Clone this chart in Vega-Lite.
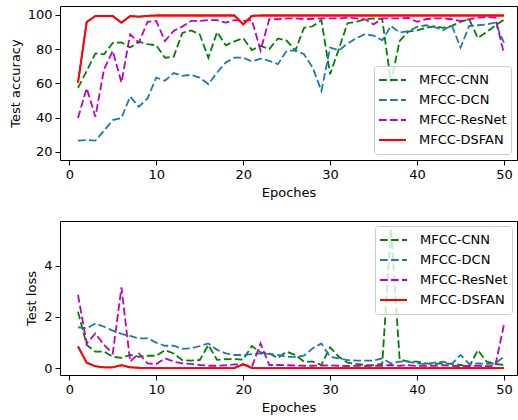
{
"$schema": "https://vega.github.io/schema/vega-lite/v6.json",
"padding": {"left": 8, "top": 5, "right": 0, "bottom": 0},
"background": "white",
"config": {
  "font": "DejaVu Sans",
  "view": {"stroke": "black", "strokeWidth": 1},
  "axis": {"grid": false, "domain": false, "tickColor": "black", "tickSize": 5, "tickWidth": 1, "labelColor": "black", "titleColor": "black", "labelFontSize": 13, "titleFontSize": 13, "titleFontWeight": "normal", "labelPadding": 3, "titlePadding": 5, "labelFont": "DejaVu Sans", "titleFont": "DejaVu Sans", "labelOverlap": false},
  "legend": {"symbolType": "stroke", "symbolSize": 729, "symbolStrokeWidth": 2, "labelFontSize": 13, "labelFont": "DejaVu Sans", "labelColor": "black", "fillColor": "rgba(255,255,255,0.8)", "strokeColor": "#cccccc", "cornerRadius": 3, "padding": 4, "rowPadding": 0, "clipHeight": 20, "labelOffset": 12, "offset": 5},
  "concat": {"spacing": 20}
},
"datasets": {"d": [
{"epoch":1,"model":"MFCC-CNN","acc":57.3,"loss":2.21},
{"epoch":2,"model":"MFCC-CNN","acc":67.3,"loss":0.91},
{"epoch":3,"model":"MFCC-CNN","acc":77.5,"loss":0.65},
{"epoch":4,"model":"MFCC-CNN","acc":77,"loss":0.65},
{"epoch":5,"model":"MFCC-CNN","acc":83.7,"loss":0.45},
{"epoch":6,"model":"MFCC-CNN","acc":84,"loss":0.41},
{"epoch":7,"model":"MFCC-CNN","acc":81,"loss":0.52},
{"epoch":8,"model":"MFCC-CNN","acc":84.4,"loss":0.45},
{"epoch":9,"model":"MFCC-CNN","acc":82.9,"loss":0.49},
{"epoch":10,"model":"MFCC-CNN","acc":82.3,"loss":0.49},
{"epoch":11,"model":"MFCC-CNN","acc":75,"loss":0.71},
{"epoch":12,"model":"MFCC-CNN","acc":75.5,"loss":0.58},
{"epoch":13,"model":"MFCC-CNN","acc":89.5,"loss":0.32},
{"epoch":14,"model":"MFCC-CNN","acc":91,"loss":0.3},
{"epoch":15,"model":"MFCC-CNN","acc":88.7,"loss":0.32},
{"epoch":16,"model":"MFCC-CNN","acc":75,"loss":0.91},
{"epoch":17,"model":"MFCC-CNN","acc":90,"loss":0.33},
{"epoch":18,"model":"MFCC-CNN","acc":82.3,"loss":0.36},
{"epoch":19,"model":"MFCC-CNN","acc":84.6,"loss":0.36},
{"epoch":20,"model":"MFCC-CNN","acc":86.5,"loss":0.34},
{"epoch":21,"model":"MFCC-CNN","acc":79.5,"loss":0.87},
{"epoch":22,"model":"MFCC-CNN","acc":81.9,"loss":0.62},
{"epoch":23,"model":"MFCC-CNN","acc":80,"loss":0.58},
{"epoch":24,"model":"MFCC-CNN","acc":86.3,"loss":0.4},
{"epoch":25,"model":"MFCC-CNN","acc":85,"loss":0.65},
{"epoch":26,"model":"MFCC-CNN","acc":79.2,"loss":0.52},
{"epoch":27,"model":"MFCC-CNN","acc":92.5,"loss":0.26},
{"epoch":28,"model":"MFCC-CNN","acc":93.4,"loss":0.26},
{"epoch":29,"model":"MFCC-CNN","acc":97,"loss":0.13},
{"epoch":30,"model":"MFCC-CNN","acc":65.3,"loss":0.82},
{"epoch":31,"model":"MFCC-CNN","acc":80,"loss":0.45},
{"epoch":32,"model":"MFCC-CNN","acc":95.2,"loss":0.22},
{"epoch":33,"model":"MFCC-CNN","acc":96,"loss":0.17},
{"epoch":34,"model":"MFCC-CNN","acc":97.5,"loss":0.13},
{"epoch":35,"model":"MFCC-CNN","acc":98,"loss":0.12},
{"epoch":36,"model":"MFCC-CNN","acc":97.5,"loss":0.17},
{"epoch":37,"model":"MFCC-CNN","acc":60.4,"loss":5.45},
{"epoch":38,"model":"MFCC-CNN","acc":84.8,"loss":0.35},
{"epoch":39,"model":"MFCC-CNN","acc":90.3,"loss":0.26},
{"epoch":40,"model":"MFCC-CNN","acc":91,"loss":0.26},
{"epoch":41,"model":"MFCC-CNN","acc":92.5,"loss":0.19},
{"epoch":42,"model":"MFCC-CNN","acc":93.4,"loss":0.17},
{"epoch":43,"model":"MFCC-CNN","acc":92.5,"loss":0.19},
{"epoch":44,"model":"MFCC-CNN","acc":93.6,"loss":0.17},
{"epoch":45,"model":"MFCC-CNN","acc":96,"loss":0.13},
{"epoch":46,"model":"MFCC-CNN","acc":97.5,"loss":0.06},
{"epoch":47,"model":"MFCC-CNN","acc":86.5,"loss":0.71},
{"epoch":48,"model":"MFCC-CNN","acc":90,"loss":0.26},
{"epoch":49,"model":"MFCC-CNN","acc":93.8,"loss":0.17},
{"epoch":50,"model":"MFCC-CNN","acc":97.2,"loss":0.13},
{"epoch":1,"model":"MFCC-DCN","acc":26.5,"loss":1.6},
{"epoch":2,"model":"MFCC-DCN","acc":26.8,"loss":1.56},
{"epoch":3,"model":"MFCC-DCN","acc":26.5,"loss":1.75},
{"epoch":4,"model":"MFCC-DCN","acc":32.3,"loss":1.62},
{"epoch":5,"model":"MFCC-DCN","acc":38.5,"loss":1.47},
{"epoch":6,"model":"MFCC-DCN","acc":39.7,"loss":1.34},
{"epoch":7,"model":"MFCC-DCN","acc":52.3,"loss":1.26},
{"epoch":8,"model":"MFCC-DCN","acc":46.3,"loss":1.17},
{"epoch":9,"model":"MFCC-DCN","acc":51.2,"loss":1.17},
{"epoch":10,"model":"MFCC-DCN","acc":63.4,"loss":1.0},
{"epoch":11,"model":"MFCC-DCN","acc":61.5,"loss":0.88},
{"epoch":12,"model":"MFCC-DCN","acc":66,"loss":0.88},
{"epoch":13,"model":"MFCC-DCN","acc":64.4,"loss":0.76},
{"epoch":14,"model":"MFCC-DCN","acc":65,"loss":0.78},
{"epoch":15,"model":"MFCC-DCN","acc":63.4,"loss":0.87},
{"epoch":16,"model":"MFCC-DCN","acc":59.5,"loss":0.97},
{"epoch":17,"model":"MFCC-DCN","acc":66.3,"loss":0.72},
{"epoch":18,"model":"MFCC-DCN","acc":72.2,"loss":0.58},
{"epoch":19,"model":"MFCC-DCN","acc":75,"loss":0.52},
{"epoch":20,"model":"MFCC-DCN","acc":75,"loss":0.52},
{"epoch":21,"model":"MFCC-DCN","acc":72.8,"loss":0.55},
{"epoch":22,"model":"MFCC-DCN","acc":74.5,"loss":0.58},
{"epoch":23,"model":"MFCC-DCN","acc":73.2,"loss":0.56},
{"epoch":24,"model":"MFCC-DCN","acc":71.2,"loss":0.52},
{"epoch":25,"model":"MFCC-DCN","acc":79,"loss":0.45},
{"epoch":26,"model":"MFCC-DCN","acc":79.3,"loss":0.45},
{"epoch":27,"model":"MFCC-DCN","acc":77,"loss":0.49},
{"epoch":28,"model":"MFCC-DCN","acc":69.2,"loss":0.78},
{"epoch":29,"model":"MFCC-DCN","acc":55.6,"loss":0.97},
{"epoch":30,"model":"MFCC-DCN","acc":80.9,"loss":0.45},
{"epoch":31,"model":"MFCC-DCN","acc":79.3,"loss":0.39},
{"epoch":32,"model":"MFCC-DCN","acc":83.2,"loss":0.32},
{"epoch":33,"model":"MFCC-DCN","acc":86.4,"loss":0.3},
{"epoch":34,"model":"MFCC-DCN","acc":88.7,"loss":0.3},
{"epoch":35,"model":"MFCC-DCN","acc":88,"loss":0.3},
{"epoch":36,"model":"MFCC-DCN","acc":85.2,"loss":0.39},
{"epoch":37,"model":"MFCC-DCN","acc":93.6,"loss":0.19},
{"epoch":38,"model":"MFCC-DCN","acc":89.7,"loss":0.26},
{"epoch":39,"model":"MFCC-DCN","acc":90.6,"loss":0.26},
{"epoch":40,"model":"MFCC-DCN","acc":93,"loss":0.19},
{"epoch":41,"model":"MFCC-DCN","acc":94,"loss":0.17},
{"epoch":42,"model":"MFCC-DCN","acc":93,"loss":0.22},
{"epoch":43,"model":"MFCC-DCN","acc":91,"loss":0.26},
{"epoch":44,"model":"MFCC-DCN","acc":94,"loss":0.17},
{"epoch":45,"model":"MFCC-DCN","acc":80.9,"loss":0.52},
{"epoch":46,"model":"MFCC-DCN","acc":93.6,"loss":0.17},
{"epoch":47,"model":"MFCC-DCN","acc":94,"loss":0.19},
{"epoch":48,"model":"MFCC-DCN","acc":94.5,"loss":0.17},
{"epoch":49,"model":"MFCC-DCN","acc":95.5,"loss":0.19},
{"epoch":50,"model":"MFCC-DCN","acc":83.8,"loss":0.45},
{"epoch":1,"model":"MFCC-ResNet","acc":39.7,"loss":2.86},
{"epoch":2,"model":"MFCC-ResNet","acc":57.2,"loss":0.97},
{"epoch":3,"model":"MFCC-ResNet","acc":40.5,"loss":1.36},
{"epoch":4,"model":"MFCC-ResNet","acc":68.3,"loss":0.91},
{"epoch":5,"model":"MFCC-ResNet","acc":79,"loss":0.58},
{"epoch":6,"model":"MFCC-ResNet","acc":60.5,"loss":3.15},
{"epoch":7,"model":"MFCC-ResNet","acc":88.7,"loss":0.26},
{"epoch":8,"model":"MFCC-ResNet","acc":83.8,"loss":0.58},
{"epoch":9,"model":"MFCC-ResNet","acc":96,"loss":0.19},
{"epoch":10,"model":"MFCC-ResNet","acc":96.5,"loss":0.17},
{"epoch":11,"model":"MFCC-ResNet","acc":84.8,"loss":0.39},
{"epoch":12,"model":"MFCC-ResNet","acc":90.7,"loss":0.26},
{"epoch":13,"model":"MFCC-ResNet","acc":93.2,"loss":0.19},
{"epoch":14,"model":"MFCC-ResNet","acc":96.5,"loss":0.17},
{"epoch":15,"model":"MFCC-ResNet","acc":96.5,"loss":0.13},
{"epoch":16,"model":"MFCC-ResNet","acc":97,"loss":0.1},
{"epoch":17,"model":"MFCC-ResNet","acc":97,"loss":0.1},
{"epoch":18,"model":"MFCC-ResNet","acc":95.5,"loss":0.12},
{"epoch":19,"model":"MFCC-ResNet","acc":97,"loss":0.15},
{"epoch":20,"model":"MFCC-ResNet","acc":96.5,"loss":0.15},
{"epoch":21,"model":"MFCC-ResNet","acc":97,"loss":0.06},
{"epoch":22,"model":"MFCC-ResNet","acc":79.3,"loss":0.97},
{"epoch":23,"model":"MFCC-ResNet","acc":97.5,"loss":0.13},
{"epoch":24,"model":"MFCC-ResNet","acc":97.5,"loss":0.13},
{"epoch":25,"model":"MFCC-ResNet","acc":98,"loss":0.12},
{"epoch":26,"model":"MFCC-ResNet","acc":98,"loss":0.11},
{"epoch":27,"model":"MFCC-ResNet","acc":97.5,"loss":0.1},
{"epoch":28,"model":"MFCC-ResNet","acc":97.8,"loss":0.1},
{"epoch":29,"model":"MFCC-ResNet","acc":98,"loss":0.11},
{"epoch":30,"model":"MFCC-ResNet","acc":98,"loss":0.12},
{"epoch":31,"model":"MFCC-ResNet","acc":98,"loss":0.1},
{"epoch":32,"model":"MFCC-ResNet","acc":98.5,"loss":0.09},
{"epoch":33,"model":"MFCC-ResNet","acc":98,"loss":0.1},
{"epoch":34,"model":"MFCC-ResNet","acc":97.5,"loss":0.09},
{"epoch":35,"model":"MFCC-ResNet","acc":94.5,"loss":0.1},
{"epoch":36,"model":"MFCC-ResNet","acc":98,"loss":0.1},
{"epoch":37,"model":"MFCC-ResNet","acc":98,"loss":0.13},
{"epoch":38,"model":"MFCC-ResNet","acc":98,"loss":0.1},
{"epoch":39,"model":"MFCC-ResNet","acc":98.3,"loss":0.12},
{"epoch":40,"model":"MFCC-ResNet","acc":96,"loss":0.09},
{"epoch":41,"model":"MFCC-ResNet","acc":97.5,"loss":0.1},
{"epoch":42,"model":"MFCC-ResNet","acc":98,"loss":0.1},
{"epoch":43,"model":"MFCC-ResNet","acc":98,"loss":0.12},
{"epoch":44,"model":"MFCC-ResNet","acc":97.5,"loss":0.1},
{"epoch":45,"model":"MFCC-ResNet","acc":96.5,"loss":0.08},
{"epoch":46,"model":"MFCC-ResNet","acc":97.5,"loss":0.09},
{"epoch":47,"model":"MFCC-ResNet","acc":98.5,"loss":0.1},
{"epoch":48,"model":"MFCC-ResNet","acc":98.8,"loss":0.08},
{"epoch":49,"model":"MFCC-ResNet","acc":98.5,"loss":0.1},
{"epoch":50,"model":"MFCC-ResNet","acc":77.4,"loss":1.7},
{"epoch":1,"model":"MFCC-DSFAN","acc":60.4,"loss":0.85},
{"epoch":2,"model":"MFCC-DSFAN","acc":95.9,"loss":0.22},
{"epoch":3,"model":"MFCC-DSFAN","acc":99.4,"loss":0.08},
{"epoch":4,"model":"MFCC-DSFAN","acc":99.4,"loss":0.04},
{"epoch":5,"model":"MFCC-DSFAN","acc":99.4,"loss":0.04},
{"epoch":6,"model":"MFCC-DSFAN","acc":95.5,"loss":0.12},
{"epoch":7,"model":"MFCC-DSFAN","acc":99.4,"loss":0.04},
{"epoch":8,"model":"MFCC-DSFAN","acc":99,"loss":0.02},
{"epoch":9,"model":"MFCC-DSFAN","acc":99.5,"loss":0.02},
{"epoch":10,"model":"MFCC-DSFAN","acc":99.7,"loss":0.01},
{"epoch":11,"model":"MFCC-DSFAN","acc":99.7,"loss":0.01},
{"epoch":12,"model":"MFCC-DSFAN","acc":99.7,"loss":0.01},
{"epoch":13,"model":"MFCC-DSFAN","acc":99.7,"loss":0.01},
{"epoch":14,"model":"MFCC-DSFAN","acc":99.7,"loss":0.01},
{"epoch":15,"model":"MFCC-DSFAN","acc":99.7,"loss":0.01},
{"epoch":16,"model":"MFCC-DSFAN","acc":99.7,"loss":0.01},
{"epoch":17,"model":"MFCC-DSFAN","acc":99.7,"loss":0.01},
{"epoch":18,"model":"MFCC-DSFAN","acc":99.7,"loss":0.01},
{"epoch":19,"model":"MFCC-DSFAN","acc":99.7,"loss":0.01},
{"epoch":20,"model":"MFCC-DSFAN","acc":94.5,"loss":0.16},
{"epoch":21,"model":"MFCC-DSFAN","acc":99.5,"loss":0.01},
{"epoch":22,"model":"MFCC-DSFAN","acc":99.7,"loss":0.01},
{"epoch":23,"model":"MFCC-DSFAN","acc":99.7,"loss":0.01},
{"epoch":24,"model":"MFCC-DSFAN","acc":99.7,"loss":0.01},
{"epoch":25,"model":"MFCC-DSFAN","acc":99.7,"loss":0.01},
{"epoch":26,"model":"MFCC-DSFAN","acc":99.7,"loss":0.01},
{"epoch":27,"model":"MFCC-DSFAN","acc":99.7,"loss":0.01},
{"epoch":28,"model":"MFCC-DSFAN","acc":99.7,"loss":0.01},
{"epoch":29,"model":"MFCC-DSFAN","acc":99.7,"loss":0.01},
{"epoch":30,"model":"MFCC-DSFAN","acc":99.7,"loss":0.01},
{"epoch":31,"model":"MFCC-DSFAN","acc":99.7,"loss":0.01},
{"epoch":32,"model":"MFCC-DSFAN","acc":99.7,"loss":0.01},
{"epoch":33,"model":"MFCC-DSFAN","acc":99.7,"loss":0.01},
{"epoch":34,"model":"MFCC-DSFAN","acc":99.7,"loss":0.01},
{"epoch":35,"model":"MFCC-DSFAN","acc":99.7,"loss":0.01},
{"epoch":36,"model":"MFCC-DSFAN","acc":99.7,"loss":0.01},
{"epoch":37,"model":"MFCC-DSFAN","acc":99.7,"loss":0.01},
{"epoch":38,"model":"MFCC-DSFAN","acc":99.7,"loss":0.01},
{"epoch":39,"model":"MFCC-DSFAN","acc":99.7,"loss":0.01},
{"epoch":40,"model":"MFCC-DSFAN","acc":99.7,"loss":0.01},
{"epoch":41,"model":"MFCC-DSFAN","acc":99.7,"loss":0.01},
{"epoch":42,"model":"MFCC-DSFAN","acc":99.7,"loss":0.01},
{"epoch":43,"model":"MFCC-DSFAN","acc":99.7,"loss":0.01},
{"epoch":44,"model":"MFCC-DSFAN","acc":99.7,"loss":0.01},
{"epoch":45,"model":"MFCC-DSFAN","acc":99.7,"loss":0.01},
{"epoch":46,"model":"MFCC-DSFAN","acc":99.7,"loss":0.01},
{"epoch":47,"model":"MFCC-DSFAN","acc":99.7,"loss":0.01},
{"epoch":48,"model":"MFCC-DSFAN","acc":99.7,"loss":0.01},
{"epoch":49,"model":"MFCC-DSFAN","acc":99.7,"loss":0.01},
{"epoch":50,"model":"MFCC-DSFAN","acc":99.7,"loss":0.01}
]},
"data": {"name": "d"},
"resolve": {"legend": {"color": "independent", "strokeDash": "independent"}},
"vconcat": [
{
  "width": 457, "height": 154,
  "encoding": {
    "x": {"field": "epoch", "type": "quantitative", "scale": {"domain": [-1.07, 51.5], "nice": false, "zero": false}, "axis": {"values": [0,10,20,30,40,50], "title": "Epoches", "labelOverlap": false}},
    "y": {"field": "acc", "type": "quantitative", "scale": {"domain": [15.15, 105.26], "nice": false, "zero": false}, "axis": {"values": [20,40,60,80,100], "title": "Test accuracy", "labelOverlap": false, "labelFlush": false}},
    "color": {"field": "model", "type": "nominal", "scale": {"domain": ["MFCC-CNN","MFCC-DCN","MFCC-ResNet","MFCC-DSFAN"], "range": ["#008000","#1f77b4","#bf00bf","#ff0000"]}, "legend": {"title": null, "orient": "bottom-right", "offset": 6}},
    "strokeDash": {"field": "model", "type": "nominal", "scale": {"domain": ["MFCC-CNN","MFCC-DCN","MFCC-ResNet","MFCC-DSFAN"], "range": [[7.7,3.3],[7.7,3.3],[7.7,3.3],[1,0]]}, "legend": {"title": null, "orient": "bottom-right", "offset": 6}}
  },
  "layer": [
    {"mark": {"type": "line", "strokeWidth": 1.8, "clip": true}},
    {"transform": [{"filter": "datum.model === 'MFCC-DSFAN'"}],
     "mark": {"type": "line", "strokeWidth": 1.8, "clip": true}}
  ]
},
{
  "width": 457, "height": 154,
  "encoding": {
    "x": {"field": "epoch", "type": "quantitative", "scale": {"domain": [-1.07, 51.5], "nice": false, "zero": false}, "axis": {"values": [0,10,20,30,40,50], "title": "Epoches", "labelOverlap": false}},
    "y": {"field": "loss", "type": "quantitative", "scale": {"domain": [-0.26, 5.74], "nice": false, "zero": false}, "axis": {"values": [0,2,4], "title": "Test loss", "labelOverlap": false, "labelFlush": false}},
    "color": {"field": "model", "type": "nominal", "scale": {"domain": ["MFCC-CNN","MFCC-DCN","MFCC-ResNet","MFCC-DSFAN"], "range": ["#008000","#1f77b4","#bf00bf","#ff0000"]}, "legend": {"title": null, "orient": "top-right", "offset": 5}},
    "strokeDash": {"field": "model", "type": "nominal", "scale": {"domain": ["MFCC-CNN","MFCC-DCN","MFCC-ResNet","MFCC-DSFAN"], "range": [[7.7,3.3],[7.7,3.3],[7.7,3.3],[1,0]]}, "legend": {"title": null, "orient": "top-right", "offset": 5}}
  },
  "layer": [
    {"mark": {"type": "line", "strokeWidth": 1.8, "clip": true}},
    {"transform": [{"filter": "datum.model === 'MFCC-DSFAN'"}],
     "mark": {"type": "line", "strokeWidth": 1.8, "clip": true}}
  ]
}
]
}
